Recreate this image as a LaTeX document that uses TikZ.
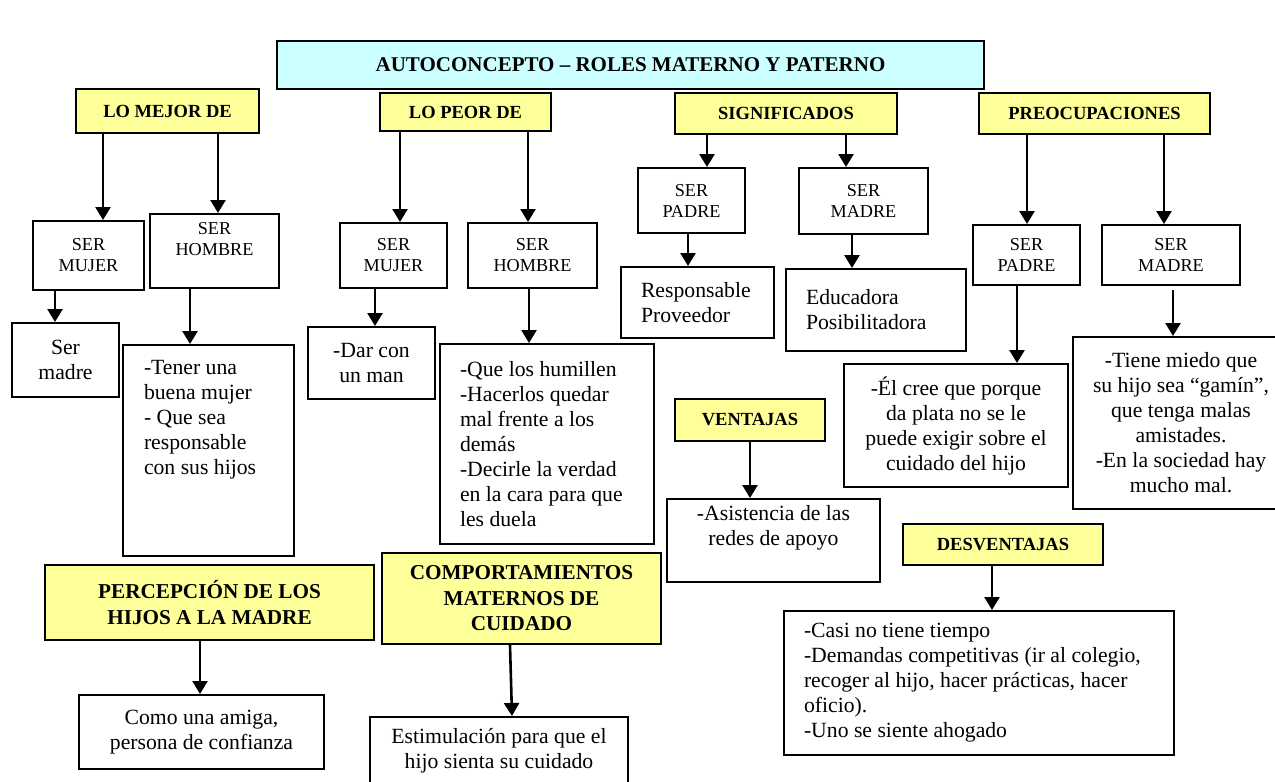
\documentclass[tikz,border=0pt]{standalone}
\usepackage{fontspec}
\setmainfont{Liberation Serif}
\usetikzlibrary{arrows.meta, positioning}

\definecolor{headyellow}{HTML}{FFFF99}
\definecolor{titlecyan}{HTML}{CCFFFF}

\begin{document}
\begin{tikzpicture}[
    x=1pt, y=-1pt,
    line width=2pt,
    head/.style={draw, fill=headyellow, anchor=north west, inner sep=0pt, align=center, font=\fontsize{18.5}{21}\selectfont\bfseries},
    bighead/.style={head, font=\fontsize{21.2}{25.5}\selectfont\bfseries},
    titlebox/.style={draw, fill=titlecyan, anchor=north west, inner sep=0pt, font=\fontsize{21}{24}\selectfont\bfseries},
    ser/.style={draw, fill=white, anchor=north west, inner sep=0pt, align=center, font=\fontsize{18.2}{21}\selectfont},
    note/.style={draw, fill=white, anchor=north west, inner sep=0pt, align=center, font=\fontsize{21.7}{25}\selectfont},
    leftnote/.style={note, align=flush left, inner xsep=20pt},
    linkarrow/.style={-{Triangle[length=13pt,width=15pt]}, line width=2.6pt}
]
    \useasboundingbox[fill=white] (0,0) rectangle (1275,782);

    % Title
    \node[titlebox, minimum width=707pt, minimum height=48pt] (title) at (276,40) {AUTOCONCEPTO – ROLES MATERNO Y PATERNO};

    % Headers
    \node[head, minimum width=183pt, minimum height=44pt] (mejor) at (75,88) {LO MEJOR DE};
    \node[head, minimum width=171pt, minimum height=38pt] (peor) at (379,92) {LO PEOR DE};
    \node[head, minimum width=222pt, minimum height=41pt] (signif) at (674,92) {SIGNIFICADOS};
    \node[head, minimum width=231pt, minimum height=41pt] (preoc) at (978,92) {PREOCUPACIONES};
    \node[head, minimum width=150pt, minimum height=42pt] (ventajas) at (674,398) {VENTAJAS};
    \node[head, minimum width=200pt, minimum height=41pt] (desvent) at (902,523) {DESVENTAJAS};
    \node[bighead, minimum width=329pt, minimum height=75pt] (percep) at (44,564) {PERCEPCIÓN DE LOS\\HIJOS A LA MADRE};
    \node[bighead, minimum width=279pt, minimum height=91pt] (comport) at (381,552) {COMPORTAMIENTOS\\MATERNOS DE\\CUIDADO};

    % Lo mejor de
    \node[ser, minimum width=111pt, minimum height=69pt] (mujerA) at (32,220) {SER\\MUJER};
    \node[ser, minimum width=129pt, minimum height=74pt] (hombreA) at (149,213) {SER\\HOMBRE\\[4pt]};
    \node[note, minimum width=107pt, minimum height=74pt] (madreA) at (11,322) {Ser\\madre};
    \node[leftnote, text width=129pt, inner xsep=21pt, inner ysep=15.6pt, text depth=166pt] (tenerA) at (122,344) {-Tener una\\buena mujer\\- Que sea\\responsable\\con sus hijos};

    % Lo peor de
    \node[ser, minimum width=107pt, minimum height=65pt] (mujerB) at (339,222) {SER\\MUJER};
    \node[ser, minimum width=129pt, minimum height=65pt] (hombreB) at (467,222) {SER\\HOMBRE};
    \node[note, minimum width=127pt, minimum height=72pt] (darB) at (307,326) {-Dar con\\un man};
    \node[leftnote, text width=174pt, minimum height=200pt] (humB) at (439,343) {-Que los humillen\\-Hacerlos quedar\\mal frente a los\\demás\\-Decirle la verdad\\en la cara para que\\les duela};

    % Significados
    \node[ser, minimum width=107pt, minimum height=65pt] (padreS) at (637,167) {SER\\PADRE};
    \node[ser, minimum width=129pt, minimum height=66pt] (madreS) at (798,167) {SER\\MADRE};
    \node[leftnote, text width=113pt, minimum height=71pt] (respS) at (620,266) {Responsable\\Proveedor};
    \node[leftnote, text width=140pt, minimum height=82pt] (educS) at (785,268) {Educadora\\Posibilitadora\\[5pt]};

    % Preocupaciones
    \node[ser, minimum width=107pt, minimum height=60pt] (padreP) at (972,224) {SER\\PADRE};
    \node[ser, minimum width=138pt, minimum height=60pt] (madreP) at (1101,224) {SER\\MADRE};
    \node[note, minimum width=224pt, minimum height=123pt] (creeP) at (843,363) {-Él cree que porque\\da plata no se le\\puede exigir sobre el\\cuidado del hijo};
    \node[note, minimum width=216pt, minimum height=172pt] (tieneP) at (1072,336) {-Tiene miedo que\\su hijo sea “gamín”,\\que tenga malas\\amistades.\\-En la sociedad hay\\mucho mal.};

    % Ventajas y desventajas
    \node[note, minimum width=213pt, minimum height=83pt] (asist) at (666,498) {-Asistencia de las\\redes de apoyo\\[5pt]};
    \node[leftnote, text width=350pt, minimum height=144pt] (demand) at (783,610) {-Casi no tiene tiempo\\-Demandas competitivas (ir al colegio,\\recoger al hijo, hacer prácticas, hacer\\oficio).\\-Uno se siente ahogado};

    % Percepcion y comportamientos
    \node[note, minimum width=245pt, minimum height=74pt] (como) at (78,694) {Como una amiga,\\persona de confianza};
    \node[note, minimum width=258pt, minimum height=68pt] (estim) at (369,716) {Estimulación para que el\\hijo sienta su cuidado};

    % Arrows
    \draw[linkarrow] (mejor.south -| 103,0) -- (mujerA.north -| 103,0);
    \draw[linkarrow] (mejor.south -| 218,0) -- (hombreA.north -| 218,0);
    \draw[linkarrow] (mujerA.south -| 55,0) -- (madreA.north -| 55,0);
    \draw[linkarrow] (hombreA.south -| 190,0) -- (tenerA.north -| 190,0);
    \draw[linkarrow] (peor.south -| 400,0) -- (mujerB.north -| 400,0);
    \draw[linkarrow] (peor.south -| 528,0) -- (hombreB.north -| 528,0);
    \draw[linkarrow] (mujerB.south -| 375,0) -- (darB.north -| 375,0);
    \draw[linkarrow] (hombreB.south -| 529,0) -- (humB.north -| 529,0);
    \draw[linkarrow] (signif.south -| 707,0) -- (padreS.north -| 707,0);
    \draw[linkarrow] (signif.south -| 846,0) -- (madreS.north -| 846,0);
    \draw[linkarrow] (padreS.south -| 688,0) -- (respS.north -| 688,0);
    \draw[linkarrow] (madreS.south -| 852,0) -- (educS.north -| 852,0);
    \draw[linkarrow] (preoc.south -| 1027,0) -- (padreP.north -| 1027,0);
    \draw[linkarrow] (preoc.south -| 1164,0) -- (madreP.north -| 1164,0);
    \draw[linkarrow] (padreP.south -| 1017,0) -- (creeP.north -| 1017,0);
    \draw[linkarrow] ([yshift=-4pt]madreP.south -| 1173,0) -- (tieneP.north -| 1173,0);
    \draw[linkarrow] (ventajas.south -| 750,0) -- (asist.north -| 750,0);
    \draw[linkarrow] (desvent.south -| 992,0) -- (demand.north -| 992,0);
    \draw[linkarrow] (percep.south -| 200,0) -- (como.north -| 200,0);
    \draw[linkarrow] (comport.south -| 510,0) -- (estim.north -| 512,0);

\end{tikzpicture}
\end{document}
